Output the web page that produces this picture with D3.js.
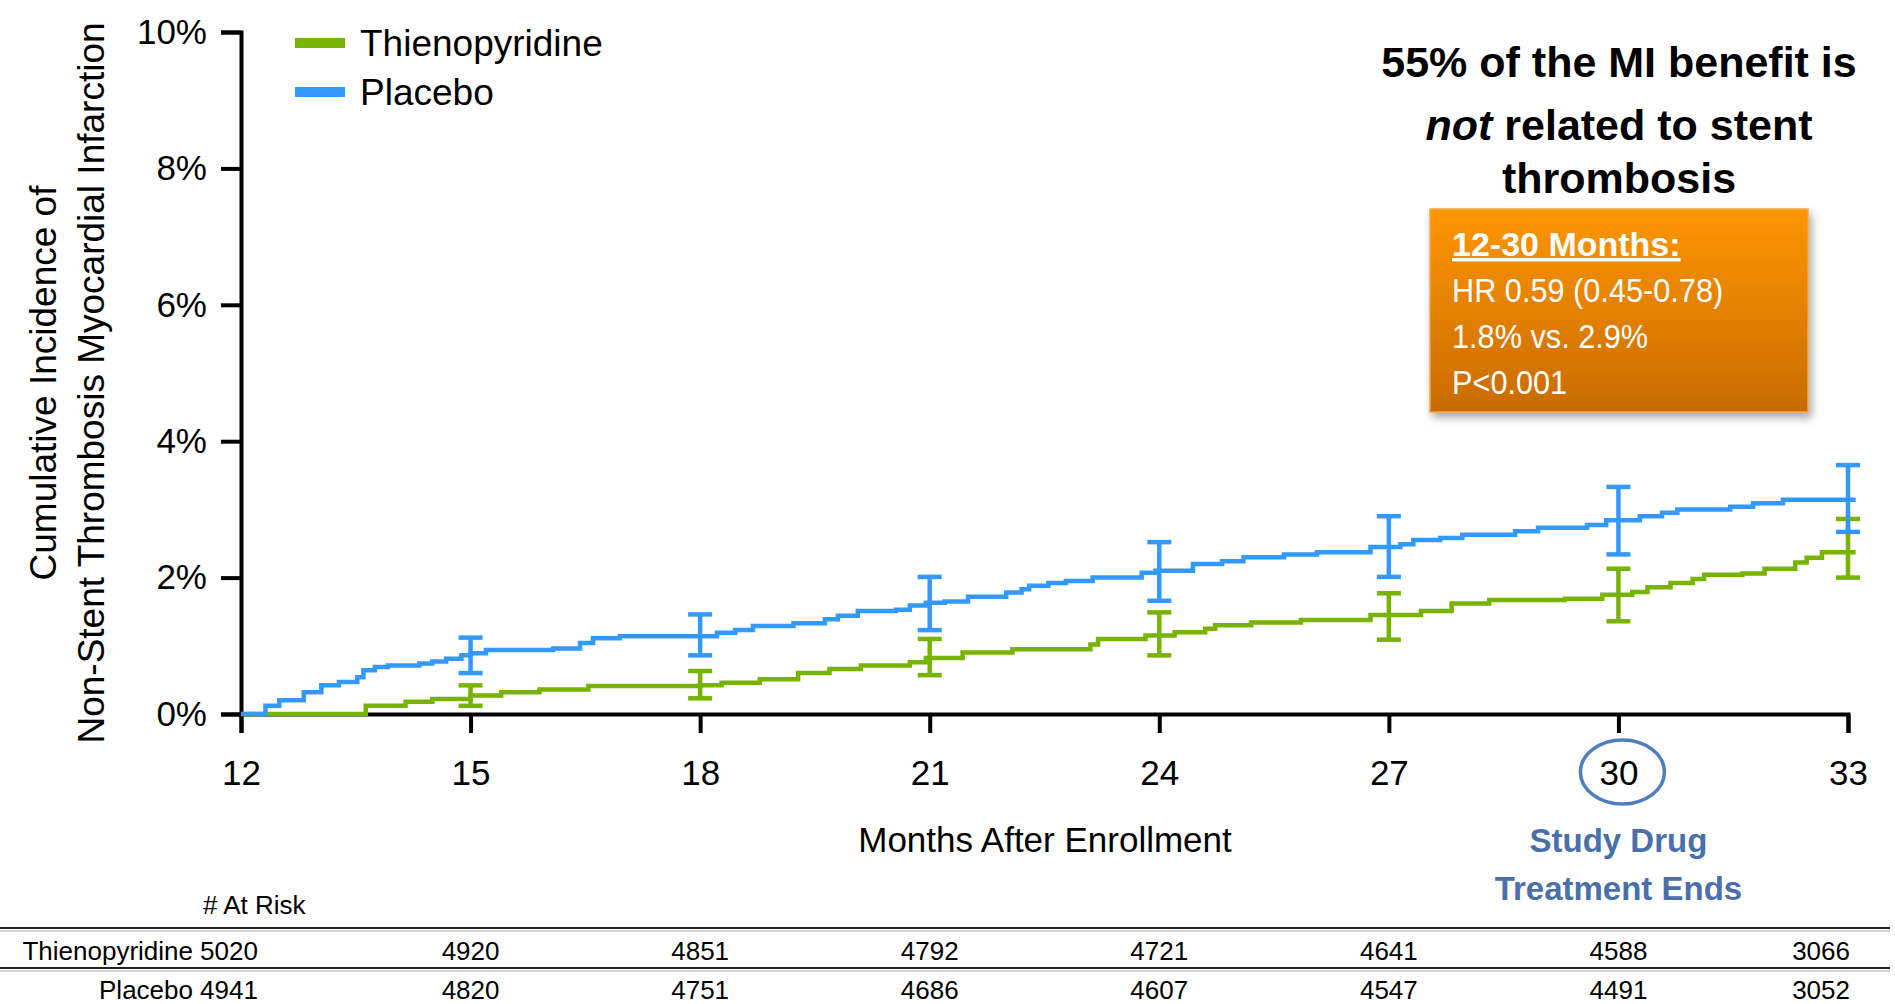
<!DOCTYPE html>
<html>
<head>
<meta charset="utf-8">
<script src="https://cdn.jsdelivr.net/npm/d3@7"></script>
<style>
  html, body { margin: 0; padding: 0; background: #fff; }
  svg { display: block; }
  text { font-family: "Liberation Sans", Arial, sans-serif; }
</style>
</head>
<body>
<svg id="chart" width="1895" height="1004"></svg>
<script>
// Kaplan-Meier style cumulative incidence, months 12 to 33
const monthTicks = [12, 15, 18, 21, 24, 27, 30, 33];
const pctTicks = [0, 2, 4, 6, 8, 10];

const seriesNames = ["Thienopyridine", "Placebo"];
const seriesColors = ["#77b300", "#3399ff"];

// step curve: event times (months) and cumulative incidence (%)
const thienoMonths = [12, 13.63, 14.15, 14.5, 15.0, 15.4, 15.9, 16.54, 18.0, 18.28, 18.78, 19.28, 19.69, 20.1,
  20.74, 20.95, 21.43, 22.08, 23.1, 23.2, 23.82, 24.2, 24.6, 24.73, 25.2, 25.85, 26.76, 27.42, 27.82,
  28.31, 29.3, 29.79, 30.18, 30.38, 30.68, 30.97, 31.12, 31.62, 31.91, 32.31, 32.46, 32.66, 33.1];
const thienoPct = [0, 0.12, 0.18, 0.22, 0.27, 0.32, 0.36, 0.41, 0.42, 0.46, 0.51, 0.60, 0.66, 0.71,
  0.76, 0.82, 0.90, 0.95, 1.02, 1.10, 1.15, 1.20, 1.25, 1.30, 1.34, 1.38, 1.45, 1.51, 1.62,
  1.67, 1.69, 1.75, 1.79, 1.86, 1.92, 1.98, 2.04, 2.06, 2.13, 2.22, 2.29, 2.37, 2.37];

const placeboMonths = [12, 12.32, 12.5, 12.82, 13.05, 13.28, 13.52, 13.6, 13.75, 13.92, 14.33, 14.5, 14.68,
  14.88, 15.0, 15.2, 16.08, 16.43, 16.6, 16.95, 18.22, 18.46, 18.69, 19.22, 19.63, 19.8, 20.06, 20.56,
  20.74, 20.95, 21.2, 21.5, 22.0, 22.2, 22.3, 22.55, 22.78, 23.13, 23.77, 23.95, 24.44, 24.82, 25.1,
  25.63, 26.06, 26.76, 27.15, 27.32, 27.67, 27.96, 28.65, 28.95, 29.59, 29.84, 30.28, 30.57, 30.77,
  31.46, 31.76, 32.15, 33.1];
const placeboPct = [0, 0.12, 0.20, 0.32, 0.42, 0.47, 0.54, 0.64, 0.69, 0.71, 0.74, 0.77, 0.81,
  0.86, 0.89, 0.94, 0.96, 1.04, 1.11, 1.14, 1.19, 1.23, 1.29, 1.33, 1.39, 1.44, 1.51, 1.53,
  1.59, 1.63, 1.65, 1.72, 1.78, 1.83, 1.88, 1.92, 1.95, 2.00, 2.07, 2.10, 2.20, 2.24, 2.30,
  2.34, 2.37, 2.45, 2.49, 2.55, 2.58, 2.63, 2.68, 2.73, 2.77, 2.84, 2.90, 2.95, 3.00,
  3.04, 3.09, 3.14, 3.14];

// 95% confidence interval bars
const ciMonths = [15, 18, 21, 24, 27, 30, 33];
const thienoLower = [0.12, 0.23, 0.57, 0.86, 1.09, 1.36, 2.00];
const thienoUpper = [0.42, 0.63, 1.10, 1.49, 1.77, 2.13, 2.86];
const placeboLower = [0.60, 0.86, 1.23, 1.66, 2.01, 2.34, 2.67];
const placeboUpper = [1.12, 1.46, 2.01, 2.52, 2.90, 3.33, 3.65];

// number at risk
const atRiskThieno = [5020, 4920, 4851, 4792, 4721, 4641, 4588, 3066];
const atRiskPlacebo = [4941, 4820, 4751, 4686, 4607, 4547, 4491, 3052];

const svg = d3.select("#chart");
const x = d3.scaleLinear().domain([12, 33]).range([241, 1848]);
const y = d3.scaleLinear().domain([0, 10]).range([714, 32]);

// gradient fill and drop shadow for the callout box
const defs = svg.append("defs");
const grad = defs.append("linearGradient").attr("id", "orangeGrad")
  .attr("x1", 0).attr("y1", 0).attr("x2", 0).attr("y2", 1);
grad.append("stop").attr("offset", "0%").attr("stop-color", "#fe9602");
grad.append("stop").attr("offset", "100%").attr("stop-color", "#c86b03");
const shadow = defs.append("filter").attr("id", "shadow")
  .attr("x", "-10%").attr("y", "-10%").attr("width", "130%").attr("height", "140%");
shadow.append("feDropShadow").attr("dx", 3).attr("dy", 5).attr("stdDeviation", 4)
  .attr("flood-color", "#000").attr("flood-opacity", 0.35);

// axes
const yAxis = d3.axisLeft(y).tickValues(pctTicks).tickFormat(d => d + "%")
  .tickSize(20).tickSizeOuter(20).tickPadding(14);
const xAxis = d3.axisBottom(x).tickValues(monthTicks).tickFormat(d3.format("d"))
  .tickSize(19).tickSizeOuter(19).tickPadding(27);

const gy = svg.append("g").attr("transform", `translate(${x(12)},0)`).call(yAxis);
const gx = svg.append("g").attr("transform", `translate(0,${y(0)})`).call(xAxis);
[gx, gy].forEach(g => {
  g.selectAll("path, line").attr("stroke", "#000").attr("stroke-width", 4);
  g.selectAll("text").attr("fill", "#000").style("font-size", "35px")
    .style("font-family", '"Liberation Sans", Arial, sans-serif');
});

// axis titles
svg.append("text").attr("x", 1045).attr("y", 852).attr("text-anchor", "middle")
  .style("font-size", "35px").text("Months After Enrollment");
const yTitle = svg.append("g").attr("transform", "translate(0,383) rotate(-90)");
yTitle.append("text").attr("x", 0).attr("y", 56).attr("text-anchor", "middle")
  .style("font-size", "37px").text("Cumulative Incidence of");
yTitle.append("text").attr("x", 0).attr("y", 104).attr("text-anchor", "middle")
  .style("font-size", "37px").text("Non-Stent Thrombosis Myocardial Infarction");

// curves
const line = d3.line().x(d => x(d[0])).y(d => y(d[1])).curve(d3.curveStepAfter);
const curves = [
  { pts: d3.zip(thienoMonths, thienoPct), lo: thienoLower, hi: thienoUpper, color: seriesColors[0] },
  { pts: d3.zip(placeboMonths, placeboPct), lo: placeboLower, hi: placeboUpper, color: seriesColors[1] }
];
curves.forEach(c => {
  svg.append("path").datum(c.pts).attr("d", line).attr("fill", "none")
    .attr("stroke", c.color).attr("stroke-width", 4.5).attr("stroke-linejoin", "miter");
});
curves.forEach(c => {
  const g = svg.append("g").attr("stroke", c.color).attr("stroke-width", 4.5);
  ciMonths.forEach((m, i) => {
    g.append("line").attr("x1", x(m)).attr("x2", x(m)).attr("y1", y(c.lo[i])).attr("y2", y(c.hi[i]));
    [c.lo[i], c.hi[i]].forEach(v => {
      g.append("line").attr("x1", x(m) - 12).attr("x2", x(m) + 12).attr("y1", y(v)).attr("y2", y(v));
    });
  });
});

// legend
const legend = svg.append("g");
seriesNames.forEach((name, i) => {
  const ly = 43 + i * 49;
  legend.append("line").attr("x1", 295).attr("x2", 345).attr("y1", ly).attr("y2", ly)
    .attr("stroke", seriesColors[i]).attr("stroke-width", 10);
  legend.append("text").attr("x", 360).attr("y", ly + 13).style("font-size", "37px").text(name);
});

// headline
const head = svg.append("g").attr("text-anchor", "middle").style("font-size", "43px").style("font-weight", "bold");
head.append("text").attr("x", 1619).attr("y", 77).text("55% of the MI benefit is");
const l2 = head.append("text").attr("x", 1619).attr("y", 140);
l2.append("tspan").style("font-style", "italic").text("not");
l2.append("tspan").text(" related to stent");
head.append("text").attr("x", 1619).attr("y", 193).text("thrombosis");

// callout box
svg.append("rect").attr("x", 1430).attr("y", 209).attr("width", 378).attr("height", 203)
  .attr("fill", "url(#orangeGrad)").attr("stroke", "#f6a54a").attr("stroke-width", 1.5)
  .attr("filter", "url(#shadow)");
const box = svg.append("g").attr("fill", "#fff").style("font-family", "Lato, 'Open Sans', sans-serif");
box.append("text").attr("x", 1452).attr("y", 256).style("font-weight", "bold").style("font-size", "34px")
  .style("text-decoration", "underline").text("12-30 Months:");
const boxLines = box.append("g").attr("transform", "translate(1452,0) scale(0.93,1)")
  .style("font-size", "33px");
["HR 0.59 (0.45-0.78)", "1.8% vs. 2.9%", "P<0.001"].forEach((t, i) => {
  boxLines.append("text").attr("x", 0).attr("y", 302 + i * 46).text(t);
});

// end-of-treatment marker
svg.append("ellipse").attr("cx", x(30) + 4).attr("cy", 772).attr("rx", 42).attr("ry", 32)
  .attr("fill", "none").attr("stroke", "#4f7dc2").attr("stroke-width", 3.5);
const note = svg.append("g").attr("text-anchor", "middle").attr("fill", "#4a6fab")
  .style("font-family", "Lato, 'Open Sans', sans-serif").style("font-weight", "bold").style("font-size", "33px");
note.append("text").attr("x", x(30)).attr("y", 852).text("Study Drug");
note.append("text").attr("x", x(30)).attr("y", 900).text("Treatment Ends");

// at-risk table
const tbl = svg.append("g").style("font-size", "26px");
tbl.append("text").attr("x", 203).attr("y", 914).text("# At Risk");
[928, 968].forEach(ry => {
  tbl.append("line").attr("x1", 0).attr("x2", 1890).attr("y1", ry).attr("y2", ry)
    .attr("stroke", "#222").attr("stroke-width", 2);
  tbl.append("line").attr("x1", 0).attr("x2", 1890).attr("y1", ry + 3).attr("y2", ry + 3)
    .attr("stroke", "#aaa").attr("stroke-width", 1);
});
[[seriesNames[0], atRiskThieno, 960], [seriesNames[1], atRiskPlacebo, 999]].forEach(([name, vals, by]) => {
  tbl.append("text").attr("x", 193).attr("y", by).attr("text-anchor", "end").text(name);
  vals.forEach((v, i) => {
    const m = monthTicks[i];
    const anchor = i === 0 ? "start" : (i === vals.length - 1 ? "end" : "middle");
    const px = i === 0 ? 200 : x(m) + (i === vals.length - 1 ? 2 : 0);
    tbl.append("text").attr("x", px).attr("y", by).attr("text-anchor", anchor).text(v);
  });
});
</script>
</body>
</html>
